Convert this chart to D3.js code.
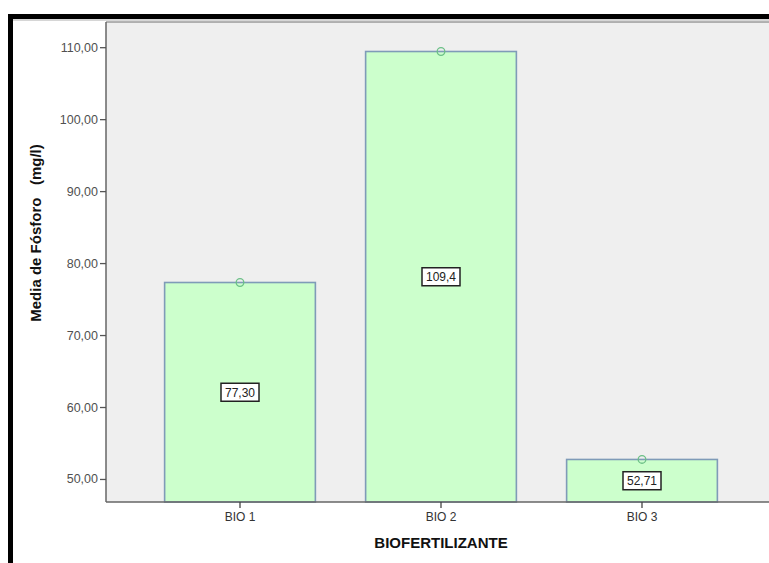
<!DOCTYPE html>
<html>
<head>
<meta charset="utf-8">
<script src="https://cdn.jsdelivr.net/npm/d3@7"></script>
<style>
  html, body { margin: 0; padding: 0; background: #ffffff; }
  svg { display: block; }
</style>
</head>
<body>
<svg id="chart" width="769" height="563"></svg>
<script>
// Mean phosphorus by biofertilizer
const categories = ["BIO 1", "BIO 2", "BIO 3"];
const means = [77.30, 109.4, 52.71];
const yTicks = [50, 60, 70, 80, 90, 100, 110];
const xTitle = "BIOFERTILIZANTE";
const yTitle = "Media de Fósforo\u00a0\u00a0\u00a0(mg/l)";

const svg = d3.select("#chart");
const W = 769, H = 563;

// outer frame
svg.append("rect")
  .attr("x", 10.5).attr("y", 16.5)
  .attr("width", W + 20).attr("height", H + 20)
  .attr("fill", "#ffffff")
  .attr("stroke", "#000").attr("stroke-width", 5);
svg.append("line")
  .attr("x1", 13).attr("x2", W).attr("y1", 20).attr("y2", 20)
  .attr("stroke", "#c8c8c8").attr("stroke-width", 1.5);

const plot = { left: 106, top: 22, right: W + 10, bottom: 502 };

const x = d3.scaleBand()
  .domain(categories)
  .range([139.5, 742.5])
  .paddingInner(0.25)
  .paddingOuter(0.125);

const y = d3.scaleLinear()
  .domain([46.8, 113.5])
  .range([plot.bottom, plot.top]);

// plot background
svg.append("rect")
  .attr("x", plot.left).attr("y", plot.top)
  .attr("width", plot.right - plot.left).attr("height", plot.bottom - plot.top)
  .attr("fill", "#efefef");
svg.append("line")
  .attr("x1", plot.left).attr("x2", plot.right)
  .attr("y1", plot.top).attr("y2", plot.top)
  .attr("stroke", "#9a9a9a").attr("stroke-width", 1.5);

// bars
svg.append("g").selectAll("rect")
  .data(categories)
  .join("rect")
  .attr("x", d => x(d))
  .attr("width", x.bandwidth())
  .attr("y", (d, i) => y(means[i]))
  .attr("height", (d, i) => plot.bottom - y(means[i]))
  .attr("fill", "#ccffcc")
  .attr("stroke", "#7f9bb8")
  .attr("stroke-width", 1.6);

// mean markers
svg.append("g").selectAll("circle")
  .data(categories)
  .join("circle")
  .attr("cx", d => x(d) + x.bandwidth() / 2)
  .attr("cy", (d, i) => y(means[i]))
  .attr("r", 3.8)
  .attr("fill", "none")
  .attr("stroke", "#6cc087")
  .attr("stroke-width", 1.3);

// value labels
const fmt = v => v.toPrecision(4).replace(".", ",");
const labels = svg.append("g").selectAll("g")
  .data(categories)
  .join("g")
  .attr("transform", (d, i) =>
    `translate(${x(d) + x.bandwidth() / 2},${(y(means[i]) + plot.bottom) / 2})`);
labels.append("rect")
  .attr("x", -19).attr("y", -9)
  .attr("width", 38).attr("height", 18)
  .attr("fill", "#ffffff")
  .attr("stroke", "#222").attr("stroke-width", 1.5);
labels.append("text")
  .attr("text-anchor", "middle")
  .attr("dy", "0.36em")
  .attr("font-family", "Arial, 'Liberation Sans', sans-serif")
  .attr("font-size", 12)
  .attr("fill", "#222")
  .text((d, i) => fmt(means[i]));

// y axis
const yAxis = d3.axisLeft(y)
  .tickValues(yTicks)
  .tickSize(6)
  .tickPadding(2)
  .tickFormat(v => d3.format(".2f")(v).replace(".", ","));
const gy = svg.append("g")
  .attr("transform", `translate(${plot.left},0)`)
  .call(yAxis);
gy.select(".domain").attr("stroke", "#666").attr("stroke-width", 1.5)
  .attr("d", `M0,${plot.top}V${plot.bottom}`);
gy.selectAll(".tick line").attr("stroke", "#555").attr("stroke-width", 1.3);
gy.selectAll(".tick text")
  .attr("font-family", "Arial, 'Liberation Sans', sans-serif")
  .attr("font-size", 12.5)
  .attr("fill", "#505050");

// x axis
const xAxis = d3.axisBottom(x).tickSize(6).tickPadding(4);
const gx = svg.append("g")
  .attr("transform", `translate(0,${plot.bottom})`)
  .call(xAxis);
gx.select(".domain").attr("stroke", "#666").attr("stroke-width", 1.5)
  .attr("d", `M${plot.left},0H${plot.right}`);
gx.selectAll(".tick line").attr("stroke", "#444").attr("stroke-width", 1.3);
gx.selectAll(".tick text")
  .attr("font-family", "Arial, 'Liberation Sans', sans-serif")
  .attr("font-size", 12)
  .attr("fill", "#333");

// axis titles
svg.append("text")
  .attr("x", 441).attr("y", 548)
  .attr("text-anchor", "middle")
  .attr("font-family", "Arial, 'Liberation Sans', sans-serif")
  .attr("font-weight", "bold")
  .attr("font-size", 15)
  .attr("fill", "#111")
  .text(xTitle);

svg.append("text")
  .attr("transform", "translate(41,233) rotate(-90)")
  .attr("text-anchor", "middle")
  .attr("font-family", "Arial, 'Liberation Sans', sans-serif")
  .attr("font-weight", "bold")
  .attr("font-size", 15)
  .attr("fill", "#111")
  .text(yTitle);
</script>
</body>
</html>
